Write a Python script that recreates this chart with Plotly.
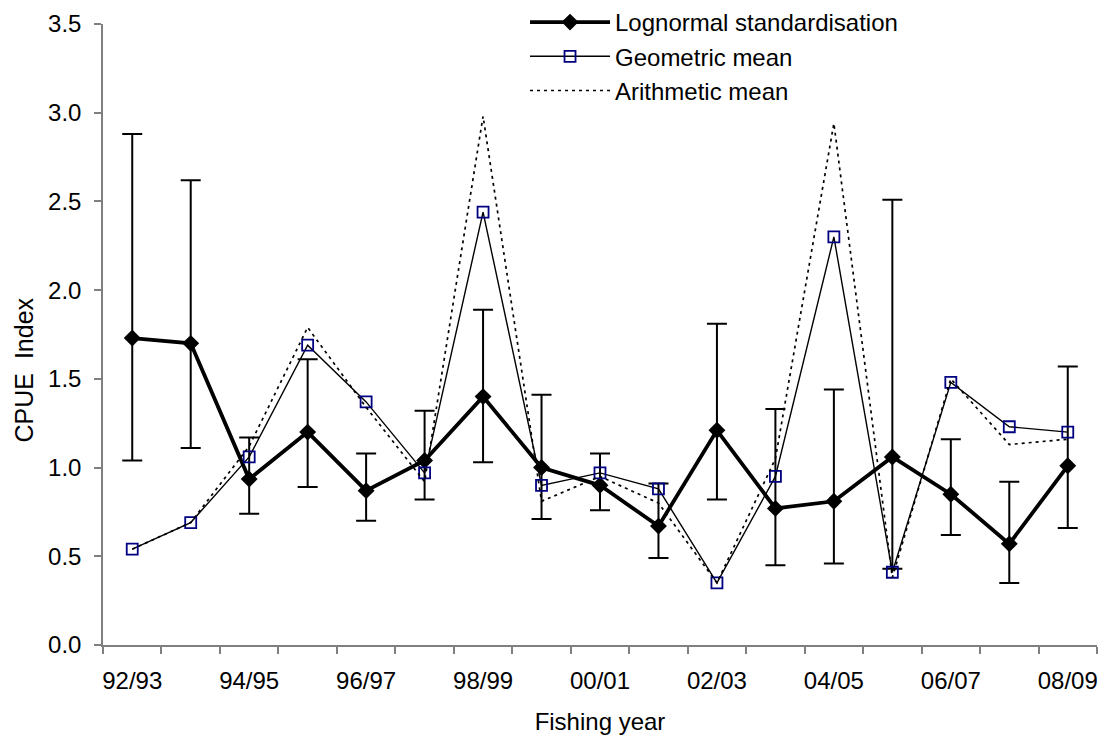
import plotly.graph_objects as go

years = ["92/93", "93/94", "94/95", "95/96", "96/97", "97/98", "98/99", "99/00", "00/01",
         "01/02", "02/03", "03/04", "04/05", "05/06", "06/07", "07/08", "08/09"]
lognormal = [1.73, 1.70, 0.935, 1.20, 0.87, 1.04, 1.40, 1.00, 0.90, 0.67, 1.21, 0.77, 0.81, 1.06, 0.85, 0.57, 1.01]
ln_upper = [2.88, 2.62, 1.17, 1.61, 1.08, 1.32, 1.89, 1.41, 1.08, 0.91, 1.81, 1.33, 1.44, 2.51, 1.16, 0.92, 1.57]
ln_lower = [1.04, 1.11, 0.74, 0.89, 0.70, 0.82, 1.03, 0.71, 0.76, 0.49, 0.82, 0.45, 0.46, 0.43, 0.62, 0.35, 0.66]
geometric = [0.54, 0.69, 1.06, 1.69, 1.37, 0.97, 2.44, 0.90, 0.97, 0.88, 0.35, 0.95, 2.30, 0.41, 1.48, 1.23, 1.20]
arithmetic = [0.54, 0.69, 1.12, 1.79, 1.34, 0.92, 2.98, 0.81, 0.95, 0.80, 0.35, 1.05, 2.94, 0.38, 1.50, 1.13, 1.16]
y_ticks = [0, 0.5, 1.0, 1.5, 2.0, 2.5, 3.0, 3.5]

xpos = list(range(len(years)))
err_plus = [u - v for u, v in zip(ln_upper, lognormal)]
err_minus = [v - l for v, l in zip(lognormal, ln_lower)]

FONT = "Liberation Sans, Arial, sans-serif"
FS = 24

fig = go.Figure()
fig.add_trace(go.Scatter(
    x=xpos, y=lognormal, mode="lines+markers", name="Lognormal standardisation",
    line=dict(color="black", width=3.8),
    marker=dict(symbol="diamond", size=13, color="black"),
    error_y=dict(type="data", symmetric=False, array=err_plus, arrayminus=err_minus,
                 color="black", thickness=2, width=10),
))
fig.add_trace(go.Scatter(
    x=xpos, y=geometric, mode="lines+markers", name="Geometric mean",
    line=dict(color="black", width=1.4),
    marker=dict(symbol="square-open", size=11, color="#000080", line=dict(width=1.8, color="#000080")),
))
fig.add_trace(go.Scatter(
    x=xpos, y=arithmetic, mode="lines", name="Arithmetic mean",
    line=dict(color="black", width=1.7, dash="3px,4px"),
))

fig.add_annotation(
    text="CPUE\u00a0 Index", textangle=-90, showarrow=False,
    xref="paper", yref="y", x=-0.079, y=1.55, xanchor="center", yanchor="middle",
    font=dict(family=FONT, size=25, color="black"),
)

fig.update_layout(
    width=1106, height=740,
    margin=dict(l=103, r=9, t=24, b=95, autoexpand=False),
    paper_bgcolor="white", plot_bgcolor="white",
    font=dict(family=FONT, size=FS, color="black"),
    showlegend=True,
    legend=dict(xref="container", yref="container", x=0.4747, y=1.0,
                xanchor="left", yanchor="top",
                bgcolor="rgba(0,0,0,0)", font=dict(family=FONT, size=FS), tracegroupgap=0,
                itemwidth=80),
    xaxis=dict(
        range=[-0.5, 16.5], showgrid=False, zeroline=False,
        showline=True, linecolor="#808080", linewidth=1.5,
        tickmode="array", tickvals=xpos[::2], ticktext=years[::2], ticks="",
        ticklabelstandoff=13,
        minor=dict(tickmode="array", tickvals=[i - 0.5 for i in range(len(years) + 1)],
                   ticks="outside", ticklen=7, tickcolor="#808080", tickwidth=1.5, showgrid=False),
        title=dict(text="Fishing year", standoff=21, font=dict(family=FONT, size=24, color="black")),
    ),
    yaxis=dict(
        range=[0, 3.5], showgrid=False, zeroline=False,
        showline=True, linecolor="#808080", linewidth=1.5,
        tickmode="array", tickvals=y_ticks, tickformat=".1f",
        ticks="outside", ticklen=7, tickcolor="#808080", tickwidth=1.5,
        ticklabelstandoff=8,
    ),
)

fig.write_html("out.html")
